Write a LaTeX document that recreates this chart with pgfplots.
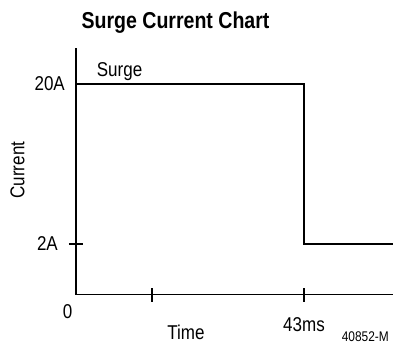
\documentclass[border=0pt]{standalone}
\usepackage{fontspec}
\setmainfont[FakeStretch=0.85]{Liberation Sans}
\usepackage{pgfplots}
\pgfplotsset{compat=1.18}
\begin{document}
\begin{tikzpicture}
\path[use as bounding box] (0,0) rectangle (393pt,344pt);
\begin{axis}[
  at={(76pt,49.3pt)}, anchor=south west,
  scale only axis, width=317pt, height=246.7pt,
  xmin=0, xmax=59.79,
  ymode=log, ymin=0.964, ymax=33.6,
  axis x line*=bottom, axis y line*=left,
  axis line style={line width=1.5pt, black},
  every tick/.style={line width=1.5pt, black},
  tick align=center, major tick length=14pt,
  xtick={14.33,43}, xticklabels={,43ms},
  ytick={2}, yticklabels={2A},
  extra y ticks={20}, extra y tick labels={20A},
  extra y tick style={major tick length=0pt},
  minor tick num=0, log ticks with fixed point,
  xticklabel style={font=\fontsize{20pt}{24pt}\selectfont, anchor=base, inner sep=0pt, yshift=-29.6pt},
  yticklabel style={font=\fontsize{20pt}{24pt}\selectfont, anchor=east, inner sep=0pt, xshift=-11pt},
  clip=false,
]
\addplot[line width=1.5pt, black, const plot] coordinates {(0,20) (43,20) (43,2) (59.79,2)};
\node[font=\fontsize{23pt}{27pt}\selectfont\bfseries, anchor=base, inner sep=0pt] at (rel axis cs:0.314,1.0799) {Surge Current Chart};
\node[font=\fontsize{20pt}{24pt}\selectfont, anchor=base west, inner sep=0pt] at (rel axis cs:0.0653,0.8837) {Surge};
\node[font=\fontsize{20pt}{24pt}\selectfont, anchor=base, inner sep=0pt] at (rel axis cs:-0.0268,-0.0957) {0};
\node[font=\fontsize{20pt}{24pt}\selectfont, anchor=base, inner sep=0pt] at (rel axis cs:0.347,-0.1836) {Time};
\node[font=\fontsize{20pt}{24pt}\selectfont, rotate=90, anchor=center, inner sep=0pt] at (rel axis cs:-0.1845,0.505) {Current};
\node[font=\fontsize{14pt}{17pt}\selectfont, anchor=base west, inner sep=0pt] at (rel axis cs:0.838,-0.1905) {40852-M};
\end{axis}
\end{tikzpicture}
\end{document}
